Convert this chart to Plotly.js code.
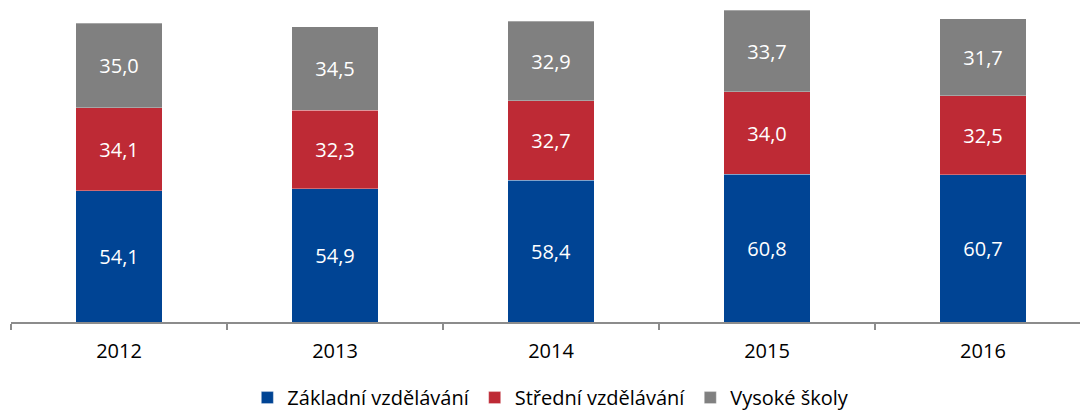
<!DOCTYPE html>
<html><head><meta charset="utf-8">
<script src="https://cdn.plot.ly/plotly-3.0.1.min.js"></script>
<style>html,body{margin:0;padding:0;background:#fff}#c{width:1080px;height:412px}</style>
</head><body><div id="c"></div>
<script>
const years = ["2012","2013","2014","2015","2016"];
const zakladni = [54.1, 54.9, 58.4, 60.8, 60.7];
const stredni = [34.1, 32.3, 32.7, 34.0, 32.5];
const vysoke = [35.0, 34.5, 32.9, 33.7, 31.7];
const names = ["Základní vzdělávání", "Střední vzdělávání", "Vysoké školy"];
const colors = ["#004494", "#be2a35", "#808080"];
const series = [zakladni, stredni, vysoke];
const traces = series.map((s, i) => ({
  type: "bar", x: years, y: s, name: names[i],
  marker: {color: colors[i], line: {color: "rgba(255,255,255,0.6)", width: 0.5}},
  texttemplate: "%{y:.1f}", textposition: "inside", insidetextanchor: "middle",
  textfont: {color: "#ffffff", size: 20, family: "Open Sans, sans-serif"},
  constraintext: "none", hoverinfo: "skip"
}));
const layout = {
  width: 1080, height: 412, barmode: "stack", bargap: 0.6,
  separators: ",.",
  margin: {l: 11, r: 0, t: 0, b: 90, autoexpand: false},
  paper_bgcolor: "#fff", plot_bgcolor: "#fff",
  font: {family: "Open Sans, sans-serif", color: "#000"},
  xaxis: {type: "category", range: [-0.5, 4.4491], showline: true, linecolor: "#8c8c8c", linewidth: 1.5,
    ticks: "outside", tickson: "boundaries", ticklen: 6, tickcolor: "#8c8c8c", tickwidth: 1.5,
    ticklabelstandoff: 10,
    tickfont: {size: 20, color: "#000"}, showgrid: false, zeroline: false, fixedrange: true, automargin: false},
  yaxis: {range: [0, 132.7], visible: false, showgrid: false, zeroline: false},
  showlegend: true,
  legend: {orientation: "h", x: 0.505, xanchor: "center", xref: "paper", yref: "container", y: 0.035, yanchor: "middle",
    font: {size: 20, color: "#000"}, traceorder: "normal", itemwidth: 30}
};
Plotly.newPlot("c", traces, layout, {staticPlot: true});
</script></body></html>
